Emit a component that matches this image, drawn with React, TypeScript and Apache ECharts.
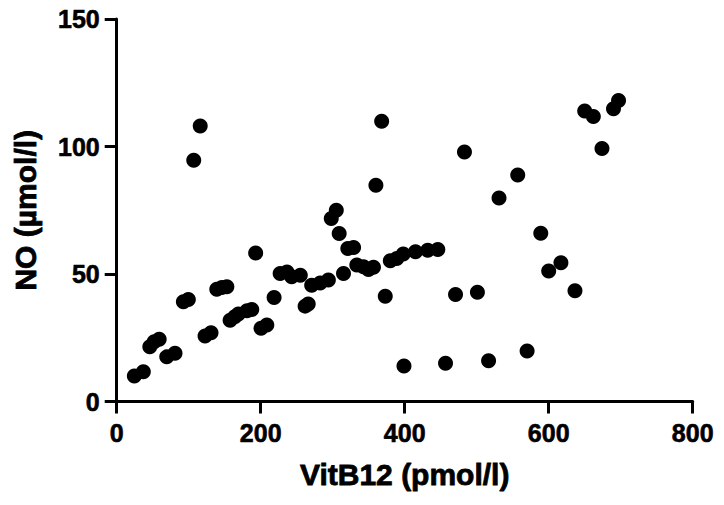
import React, { useEffect, useRef } from "react";
import * as echarts from "echarts";

const vitB12: number[] = [
  24.5, 37, 46, 52, 59, 69.5, 81, 92.6, 99.5, 107, 116, 122.7, 131, 139, 146, 153,
  157.5, 164, 169, 181, 187.6, 193, 200.5, 208.5, 218.6, 227, 236.5, 243, 255,
  261.7, 266, 270.8, 282.6, 294, 298, 305, 309, 315, 321, 329, 333.5, 342.8,
  349.7, 356.6, 360, 368, 373, 380, 389, 398, 399, 415, 432, 446, 456.7, 470.6,
  483, 501, 516.5, 531, 557, 570, 589, 600, 617, 636.5, 650, 662, 674, 690, 697,
];
const no: number[] = [
  10, 11.7, 21.5, 23.4, 24.4, 17.5, 18.9, 39.1, 40, 94.6, 108, 25.7, 27, 44, 44.7, 45,
  31.9, 33.2, 34.3, 35.6, 36.1, 58.2, 28.7, 30, 40.8, 50.2, 50.8, 48.9, 49.5,
  37.4, 38.2, 45.6, 46.5, 47.6, 71.8, 75, 65.9, 50.2, 60, 60.4, 53.5, 52.8,
  51.8, 52.6, 84.8, 109.9, 41.3, 55.2, 56.1, 57.8, 13.9, 58.7, 59.3, 59.6, 15, 42,
  97.8, 42.8, 16, 79.8, 88.8, 19.8, 66, 51.2, 54.4, 43.4, 113.9, 111.8, 99.2, 114.8, 118,
];
const xTicks = { min: 0, max: 800, interval: 200 };
const yTicks = { min: 0, max: 150, interval: 50 };
const xTitle = "VitB12 (pmol/l)";
const yTitle = "NO (µmol/l)";

export default function App() {
  const ref = useRef<HTMLDivElement>(null);
  useEffect(() => {
    if (!ref.current) return;
    const chart = echarts.init(ref.current, null, { renderer: "svg" });
    const font = "'Liberation Sans', Arial, Helvetica, sans-serif";
    const axisCommon = {
      axisLine: { show: true, onZero: false, lineStyle: { color: "#000", width: 3 } },
      axisTick: { show: true, inside: false, length: 12, lineStyle: { color: "#000", width: 3 } },
      splitLine: { show: false },
      axisLabel: {
        color: "#000", fontSize: 25, fontWeight: "bold" as const, fontFamily: font,
        textBorderColor: "#000", textBorderWidth: 0.6,
      },
      nameTextStyle: {
        color: "#000", fontSize: 30, fontWeight: "bold" as const, fontFamily: font,
        textBorderColor: "#000", textBorderWidth: 0.8,
      },
      nameLocation: "middle" as const,
    };
    chart.setOption({
      animation: false,
      backgroundColor: "#fff",
      grid: { left: 116.7, right: 31.3, top: 19, bottom: 103.5, containLabel: false },
      xAxis: {
        type: "value",
        ...xTicks,
        ...axisCommon,
        axisLabel: { ...axisCommon.axisLabel, margin: 19 },
        name: xTitle,
        nameGap: 58,
      },
      yAxis: {
        type: "value",
        ...yTicks,
        ...axisCommon,
        axisLabel: { ...axisCommon.axisLabel, margin: 17 },
        name: yTitle,
        nameGap: 76,
      },
      series: [
        {
          type: "scatter",
          symbol: "circle",
          symbolSize: 15,
          itemStyle: { color: "#000", opacity: 1 },
          data: vitB12.map((x, i) => [x, no[i]]),
        },
      ],
    });
    return () => chart.dispose();
  }, []);
  return <div ref={ref} style={{ width: 724, height: 505, position: "absolute", left: 0, top: 0 }} />;
}
